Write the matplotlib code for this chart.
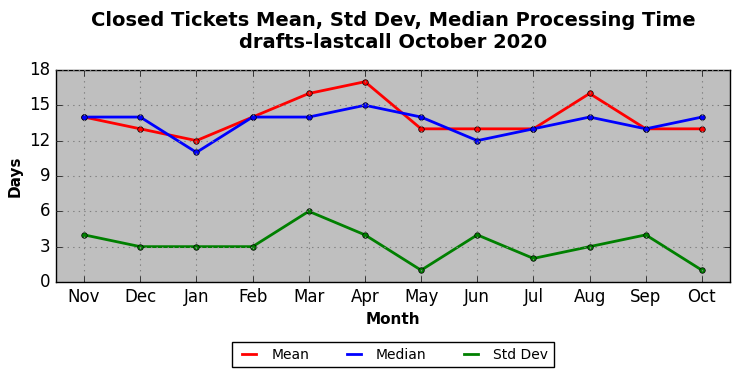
import matplotlib
matplotlib.use('Agg')
import matplotlib.pyplot as plt
from matplotlib.lines import Line2D

plt.style.use('classic')

months = ['Nov', 'Dec', 'Jan', 'Feb', 'Mar', 'Apr', 'May', 'Jun', 'Jul', 'Aug', 'Sep', 'Oct']
mean = [14, 13, 12, 14, 16, 17, 13, 13, 13, 16, 13, 13]
median = [14, 14, 11, 14, 14, 15, 14, 12, 13, 14, 13, 14]
std_dev = [4, 3, 3, 3, 6, 4, 1, 4, 2, 3, 4, 1]

series = [('Mean', mean, 'red'), ('Median', median, 'blue'), ('Std Dev', std_dev, 'green')]

fig = plt.figure(figsize=(7.4, 3.78), dpi=100)
fig.patch.set_facecolor('white')
ax = fig.add_axes([0.0757, 0.254, 0.9108, 0.561])
ax.set_facecolor('#bfbfbf')

x = range(len(months))
handles = []
for name, vals, c in series:
    ax.plot(x, vals, color=c, lw=2, marker='o', ms=4)
    handles.append(Line2D([], [], color=c, lw=2, label=name))

ax.set_xlim(-0.5, len(months) - 0.5)
ax.set_ylim(0, 18)
ax.set_yticks(range(0, 19, 3))
ax.set_xticks(list(x))
ax.set_xticklabels(months)
ax.grid(True, color='gray', linestyle=':', linewidth=0.8)

ax.set_xlabel('Month', fontweight='bold', fontsize=11)
ax.set_ylabel('Days', fontweight='bold', fontsize=11)
ax.set_title('Closed Tickets Mean, Std Dev, Median Processing Time\ndrafts-lastcall October 2020',
             fontweight='bold', fontsize=14, pad=16)

ax.legend(handles=handles, loc='upper center', bbox_to_anchor=(0.5, -0.25), ncol=3,
          fontsize=10, frameon=True, fancybox=False, handlelength=1.6,
          columnspacing=2.4)

fig.savefig('out.png', dpi=100, facecolor='white')
